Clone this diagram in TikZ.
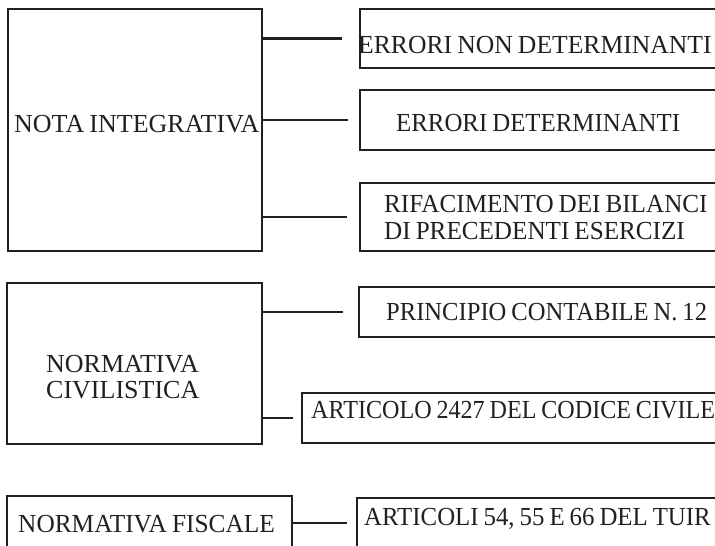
\documentclass[tikz,border=0pt]{standalone}
\usepackage{fontspec}
\setmainfont{Liberation Serif}[WordSpace=0.8]
\usetikzlibrary{positioning,calc}
\definecolor{inkdark}{HTML}{231F20}

\begin{document}
\begin{tikzpicture}[x=1pt, y=-1pt, line width=2.4pt, color=inkdark,
  box/.style={draw, anchor=north west, inner sep=0pt, outer sep=0pt},
  txt/.style={font=\fontsize{26pt}{26pt}\selectfont\addfontfeature{FakeStretch=#1},
    anchor=base west, inner sep=0pt, align=left},
  txt/.default=1]
\clip (0,0) rectangle (715,546);
\node[box, minimum width=254, minimum height=242] (ni) at (8,9) {};
\node[box, minimum width=255, minimum height=161] (nc) at (7,283) {};
\node[box, minimum width=285, minimum height=100] (nf) at (7,496) {};
\node[box, minimum width=400, minimum height=59] (en) at (360,9) {};
\node[box, minimum width=400, minimum height=60] (ed) at (360,90) {};
\node[box, minimum width=400, minimum height=68] (rf) at (360,183) {};
\node[box, minimum width=400, minimum height=50] (pc) at (359,287) {};
\node[box, minimum width=460, minimum height=50] (ac) at (302,393) {};
\node[box, minimum width=400, minimum height=50] (at) at (357,498) {};
\node[txt] (ni-t) at (13,132) {NOTA INTEGRATIVA};
\node[txt] (nc-t) at (45,398) {NORMATIVA\\CIVILISTICA};
\node[txt=0.975] (nf-t) at (17,532) {NORMATIVA FISCALE};
\node[txt=0.986] (en-t) at (357,53) {ERRORI NON DETERMINANTI};
\node[txt=0.956] (ed-t) at (395,131) {ERRORI DETERMINANTI};
\node[txt=0.967] (rf-t) at (383,239) {RIFACIMENTO DEI BILANCI\\[1pt]DI PRECEDENTI ESERCIZI};
\node[txt=0.946] (pc-t) at (385,320) {PRINCIPIO CONTABILE N. 12};
\node[txt=0.928] (ac-t) at (310,418) {ARTICOLO 2427 DEL CODICE CIVILE};
\node[txt=0.956] (at-t) at (363,525) {ARTICOLI 54, 55 E 66 DEL TUIR};
\draw[shorten >=18pt] (ni.east |- en.west) -- (en.west);
\draw[shorten >=12pt] (ni.east |- ed.west) -- (ed.west);
\draw[shorten >=13pt] (ni.east |- rf.west) -- (rf.west);
\draw[shorten >=16pt] (nc.east |- pc.west) -- (pc.west);
\draw[shorten >=9pt] (nc.east |- ac.west) -- (ac.west);
\draw[shorten >=10pt] (nf.east |- at.west) -- (at.west);
\end{tikzpicture}
\end{document}
